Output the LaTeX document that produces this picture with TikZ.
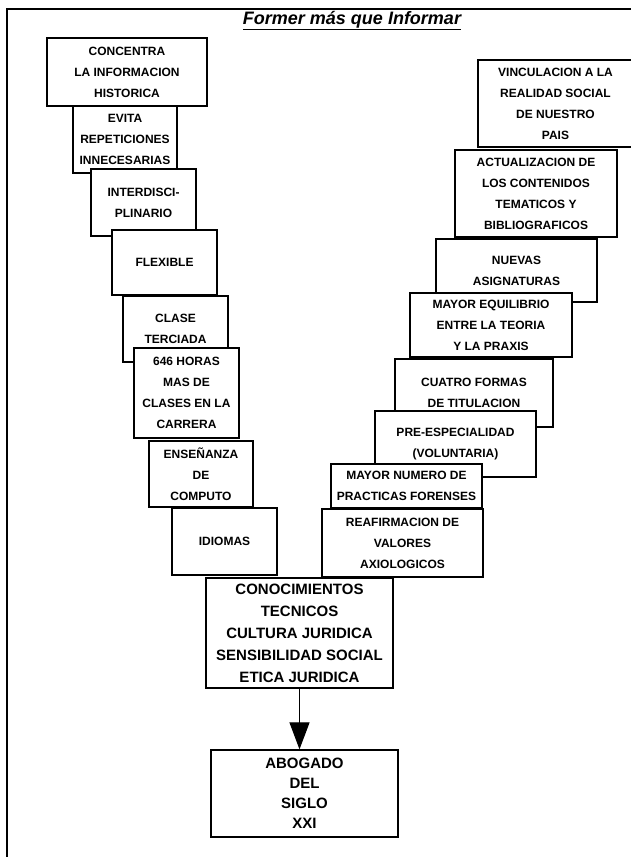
\documentclass[tikz,border=0pt]{standalone}
\usepackage{fontspec}
\setmainfont{Liberation Sans}
\usepackage{tikz}
\usetikzlibrary{arrows.meta}

\tikzset{
	caja/.style={draw=black, fill=white, line width=1.2pt, align=center, inner sep=0pt, font=\bfseries\fontsize{12}{21}\selectfont},
	cajagrande/.style={caja, font=\bfseries\fontsize{15}{22}\selectfont}
}

\begin{document}
\begin{tikzpicture}[x=1pt, y=-1pt]
	\useasboundingbox (0,0) rectangle (631,857);
	\draw[black, line width=1.5pt] (7,857) -- (7,9) -- (631,9);
	\node[anchor=base, font=\bfseries\itshape\fontsize{18}{20}\selectfont] (titulo) at (352,24) {\underline{Former más que Informar}};
	% lado izquierdo
	\node[caja, minimum width=160pt, minimum height=68pt] (concentra) at (127,72) {CONCENTRA\\LA INFORMACION\\HISTORICA};
	\node[caja, minimum width=104pt, minimum height=67pt] (evita) at (125,139.5) {EVITA\\REPETICIONES\\INNECESARIAS};
	\node[caja, minimum width=105pt, minimum height=67pt] (interdisci) at (143.5,202.5) {INTERDISCI-\\PLINARIO};
	\node[caja, minimum width=105pt, minimum height=65pt] (flexible) at (164.5,262.5) {FLEXIBLE};
	\node[caja, minimum width=105pt, minimum height=66pt] (clase) at (175.5,329) {CLASE\\TERCIADA};
	\node[caja, minimum width=105pt, minimum height=90pt] (horas) at (186.5,393) {646 HORAS\\MAS DE\\CLASES EN LA\\CARRERA};
	\node[caja, minimum width=104pt, minimum height=66pt] (computo) at (201,474) {ENSEÑANZA\\DE\\COMPUTO};
	\node[caja, minimum width=105pt, minimum height=67pt] (idiomas) at (224.5,541.5) {IDIOMAS};
	% lado derecho
	\node[caja, minimum width=155pt, minimum height=87pt] (vinculacion) at (555.5,103.5) {VINCULACION A LA\\REALIDAD SOCIAL\\DE NUESTRO\\PAIS};
	\node[caja, minimum width=162pt, minimum height=87pt] (actualizacion) at (536,193.5) {ACTUALIZACION DE\\LOS CONTENIDOS\\TEMATICOS Y\\BIBLIOGRAFICOS};
	\node[caja, minimum width=161pt, minimum height=63pt] (nuevas) at (516.5,270.5) {NUEVAS\\ASIGNATURAS};
	\node[caja, minimum width=162pt, minimum height=64pt] (equilibrio) at (491,325) {MAYOR EQUILIBRIO\\ENTRE LA TEORIA\\Y LA PRAXIS};
	\node[caja, minimum width=158pt, minimum height=68pt] (titulacion) at (474,393) {CUATRO FORMAS\\DE TITULACION};
	\node[caja, minimum width=161pt, minimum height=66pt] (preesp) at (455.5,444) {PRE-ESPECIALIDAD\\(VOLUNTARIA)};
	\node[caja, minimum width=151pt, minimum height=44pt] (practicas) at (406.5,486) {MAYOR NUMERO DE\\PRACTICAS FORENSES};
	\node[caja, minimum width=161pt, minimum height=68pt] (valores) at (402.5,543) {REAFIRMACION DE\\VALORES\\AXIOLOGICOS};
	% centro
	\node[cajagrande, minimum width=187pt, minimum height=110pt] (conoc) at (299.5,633) {CONOCIMIENTOS\\TECNICOS\\CULTURA JURIDICA\\SENSIBILIDAD SOCIAL\\ETICA JURIDICA};
	\node[cajagrande, minimum width=187pt, minimum height=87pt, font=\bfseries\fontsize{15}{20}\selectfont] (abogado) at (304.5,793.5) {ABOGADO\\DEL\\SIGLO\\XXI};
	\draw[black, line width=1pt, -{Triangle[width=20pt, length=27pt]}] (conoc.south) -- (conoc.south |- abogado.north);
\end{tikzpicture}
\end{document}
